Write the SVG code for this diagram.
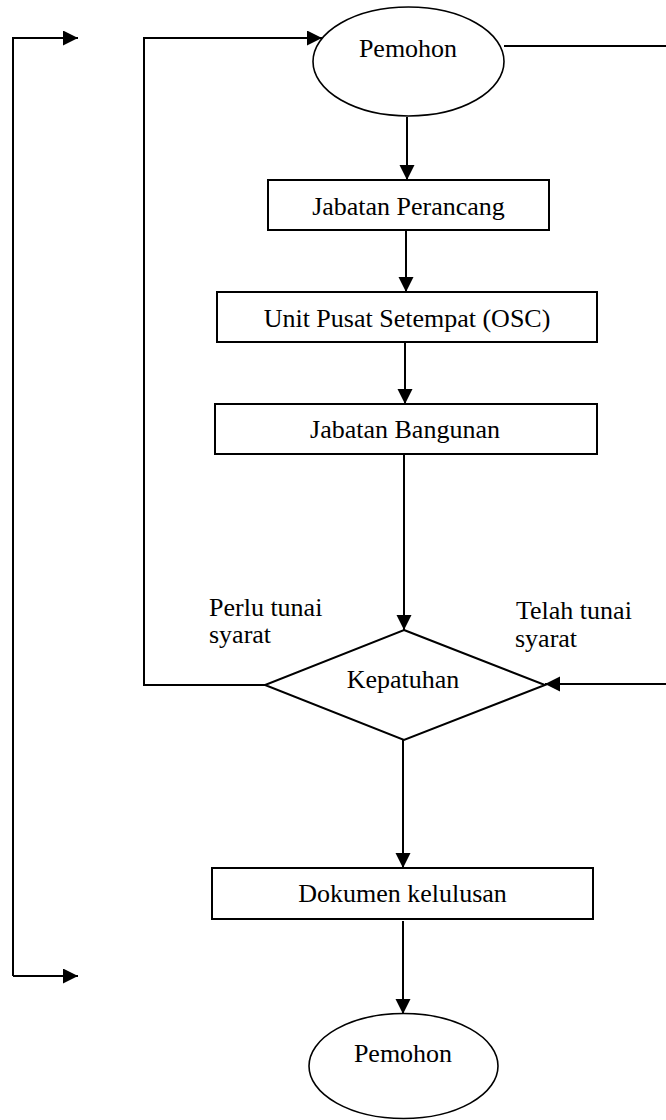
<svg xmlns="http://www.w3.org/2000/svg" width="666" height="1120" viewBox="0 0 666 1120">
<style>
.n{fill:#fff;stroke:#000;stroke-width:2}
.e{fill:#fff;stroke:#000;stroke-width:1.6}
.t{font-family:"Liberation Serif","Times New Roman",serif;font-size:26px;fill:#000}
.m{text-anchor:middle}
.c{fill:none;stroke:#000;stroke-width:2}
</style>
<defs>
<marker id="ah" markerUnits="userSpaceOnUse" markerWidth="16" markerHeight="16" refX="15" refY="7.5" orient="auto">
<path d="M0,0 L15,7.5 L0,15 Z" fill="#000"/>
</marker>
</defs>
<rect width="666" height="1120" fill="#fff"/>
<g id="connectors">
<path class="c" d="M13,976 L13,38 L78,38" marker-end="url(#ah)"/>
<path class="c" d="M13,976 L78,976" marker-end="url(#ah)"/>
<path class="c" d="M265,685 L144,685 L144,38 L322,38" marker-end="url(#ah)"/>
<path class="c" d="M504,46 L672,46 L672,684 L545,684" marker-end="url(#ah)"/>
<path class="c" d="M407,117 L407,180" marker-end="url(#ah)"/>
<path class="c" d="M406,230 L406,292" marker-end="url(#ah)"/>
<path class="c" d="M405,342 L405,404" marker-end="url(#ah)"/>
<path class="c" d="M404,454 L404,630" marker-end="url(#ah)"/>
<path class="c" d="M403,740 L403,868" marker-end="url(#ah)"/>
<path class="c" d="M403,921 L403,1014" marker-end="url(#ah)"/>
</g>
<g id="pemohon-top">
<ellipse class="e" cx="408.5" cy="61.5" rx="95.5" ry="54.5"/>
<text class="t m" x="408" y="57">Pemohon</text>
</g>
<g id="jabatan-perancang">
<rect class="n" x="268" y="180" width="281" height="50"/>
<text class="t m" x="408.5" y="215">Jabatan Perancang</text>
</g>
<g id="unit-pusat">
<rect class="n" x="217" y="292" width="380" height="50"/>
<text class="t m" x="407" y="327">Unit Pusat Setempat (OSC)</text>
</g>
<g id="jabatan-bangunan">
<rect class="n" x="215" y="404" width="382" height="50"/>
<text class="t m" x="405" y="438">Jabatan Bangunan</text>
</g>
<g id="kepatuhan">
<polygon class="n" points="404,630 545,685 404,740 265,685"/>
<text class="t m" x="403" y="688">Kepatuhan</text>
</g>
<g id="label-perlu">
<text class="t" x="209" y="616">Perlu tunai</text>
<text class="t" x="209" y="643">syarat</text>
</g>
<g id="label-telah">
<text class="t" x="516" y="619">Telah tunai</text>
<text class="t" x="515" y="647">syarat</text>
</g>
<g id="dokumen">
<rect class="n" x="212" y="868" width="381" height="51"/>
<text class="t m" x="402.5" y="902">Dokumen kelulusan</text>
</g>
<g id="pemohon-bottom">
<ellipse class="e" cx="403.5" cy="1066" rx="94.5" ry="52.5"/>
<text class="t m" x="403" y="1062">Pemohon</text>
</g>
</svg>
